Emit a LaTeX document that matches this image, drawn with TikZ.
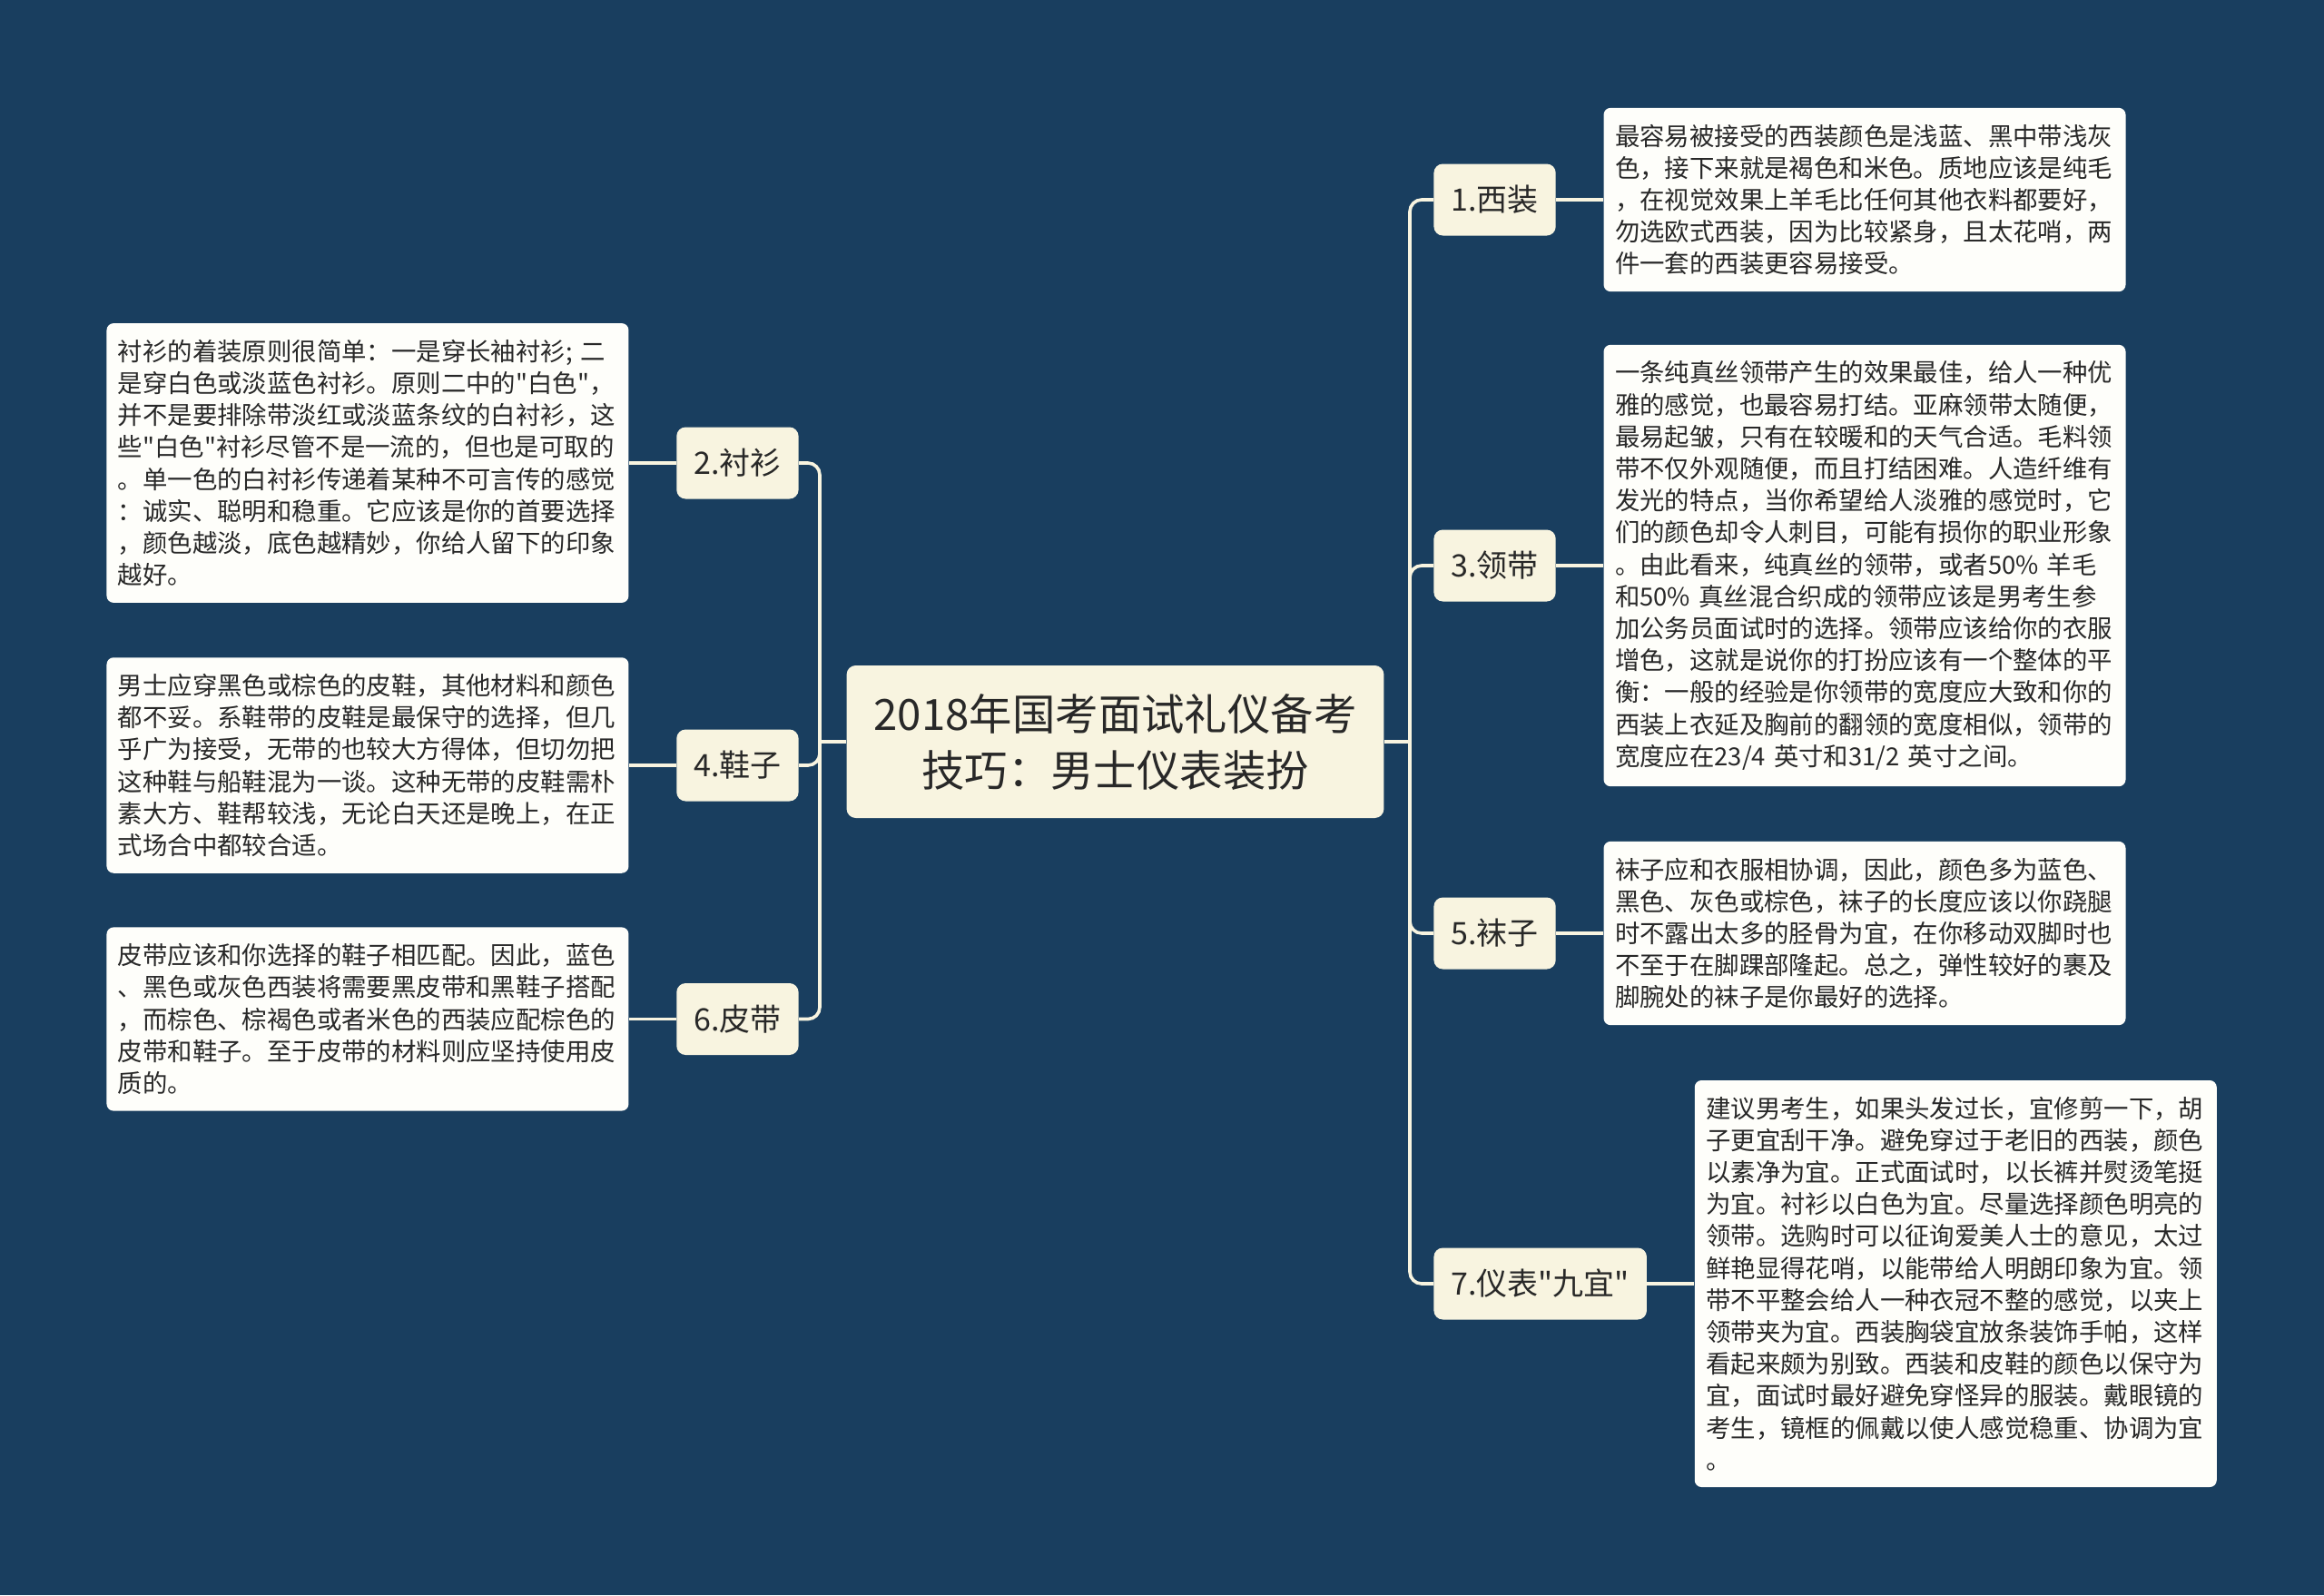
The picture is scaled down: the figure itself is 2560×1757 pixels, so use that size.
\documentclass[tikz,border=0pt]{standalone}
\usepackage{fontspec}
\setmainfont{Noto Sans CJK SC}[Ligatures=TeXOff]
\usepackage{xcolor}
\usepackage{tikz}
\usetikzlibrary{positioning}
\definecolor{nuit}{RGB}{25,62,95}
\definecolor{creme}{RGB}{248,244,224}
\definecolor{papier}{RGB}{254,254,250}
\definecolor{encre}{RGB}{40,40,40}

\begin{document}
\begin{tikzpicture}[x=0.5pt, y=-0.5pt, text=encre,
  racine/.style={fill=creme, rounded corners=5pt, minimum height=84pt, inner xsep=15pt, align=center, font=\fontsize{23.7}{31}\selectfont},
  branche/.style={fill=creme, rounded corners=5pt, minimum height=39.5pt, inner xsep=9.5pt, font=\fontsize{17}{20}\selectfont},
  feuille/.style={fill=papier, rounded corners=3.8pt, text width=275pt, inner xsep=6.25pt, inner ysep=9pt, align=left, font=\fontsize{13.7}{17.6}\selectfont},
  lien/.style={draw=creme, line width=1.8pt, rounded corners=6.5pt}]
\fill[nuit] (0,0) rectangle (2560,1757);
\useasboundingbox (0,0) rectangle (2560,1757);
\node[racine] (r) at (1228.5,817) {2018年国考面试礼仪备考\\技巧：男士仪表装扮};
\coordinate (td) at (1553,817);
\coordinate (tg) at (903,817);
% droite
\node[branche, anchor=west] (b1) at (1579,220) {1.西装};
\node[branche, anchor=west] (b3) at (1579,623) {3.领带};
\node[branche, anchor=west] (b5) at (1579,1028) {5.袜子};
\node[branche, anchor=west] (b7) at (1579,1414) {7.仪表"九宜"};
% gauche
\node[branche, anchor=east] (b2) at (880,510) {2.衬衫};
\node[branche, anchor=east] (b4) at (880,843) {4.鞋子};
\node[branche, anchor=east] (b6) at (880,1122.5) {6.皮带};
% textes
\node[feuille, right=26pt of b1] (f1) {最容易被接受的西装颜色是浅蓝、黑中带浅灰\\
色，接下来就是褐色和米色。质地应该是纯毛\\
，在视觉效果上羊毛比任何其他衣料都要好，\\
勿选欧式西装，因为比较紧身，且太花哨，两\\
件一套的西装更容易接受。};
\node[feuille, right=26pt of b3] (f3) {一条纯真丝领带产生的效果最佳，给人一种优\\
雅的感觉，也最容易打结。亚麻领带太随便，\\
最易起皱，只有在较暖和的天气合适。毛料领\\
带不仅外观随便，而且打结困难。人造纤维有\\
发光的特点，当你希望给人淡雅的感觉时，它\\
们的颜色却令人刺目，可能有损你的职业形象\\
。由此看来，纯真丝的领带，或者50\% 羊毛\\
和50\% 真丝混合织成的领带应该是男考生参\\
加公务员面试时的选择。领带应该给你的衣服\\
增色，这就是说你的打扮应该有一个整体的平\\
衡：一般的经验是你领带的宽度应大致和你的\\
西装上衣延及胸前的翻领的宽度相似，领带的\\
宽度应在23/4 英寸和31/2 英寸之间。};
\node[feuille, right=26pt of b5] (f5) {袜子应和衣服相协调，因此，颜色多为蓝色、\\
黑色、灰色或棕色，袜子的长度应该以你跷腿\\
时不露出太多的胫骨为宜，在你移动双脚时也\\
不至于在脚踝部隆起。总之，弹性较好的裹及\\
脚腕处的袜子是你最好的选择。};
\node[feuille, right=26pt of b7] (f7) {建议男考生，如果头发过长，宜修剪一下，胡\\
子更宜刮干净。避免穿过于老旧的西装，颜色\\
以素净为宜。正式面试时，以长裤并熨烫笔挺\\
为宜。衬衫以白色为宜。尽量选择颜色明亮的\\
领带。选购时可以征询爱美人士的意见，太过\\
鲜艳显得花哨，以能带给人明朗印象为宜。领\\
带不平整会给人一种衣冠不整的感觉，以夹上\\
领带夹为宜。西装胸袋宜放条装饰手帕，这样\\
看起来颇为别致。西装和皮鞋的颜色以保守为\\
宜，面试时最好避免穿怪异的服装。戴眼镜的\\
考生，镜框的佩戴以使人感觉稳重、协调为宜\\
。};
\node[feuille, left=26pt of b2] (f2) {衬衫的着装原则很简单：一是穿长袖衬衫; 二\\
是穿白色或淡蓝色衬衫。原则二中的"白色"，\\
并不是要排除带淡红或淡蓝条纹的白衬衫，这\\
些"白色"衬衫尽管不是一流的，但也是可取的\\
。单一色的白衬衫传递着某种不可言传的感觉\\
：诚实、聪明和稳重。它应该是你的首要选择\\
，颜色越淡，底色越精妙，你给人留下的印象\\
越好。};
\node[feuille, left=26pt of b4] (f4) {男士应穿黑色或棕色的皮鞋，其他材料和颜色\\
都不妥。系鞋带的皮鞋是最保守的选择，但几\\
乎广为接受，无带的也较大方得体，但切勿把\\
这种鞋与船鞋混为一谈。这种无带的皮鞋需朴\\
素大方、鞋帮较浅，无论白天还是晚上，在正\\
式场合中都较合适。};
\node[feuille, left=26pt of b6] (f6) {皮带应该和你选择的鞋子相匹配。因此，蓝色\\
、黑色或灰色西装将需要黑皮带和黑鞋子搭配\\
，而棕色、棕褐色或者米色的西装应配棕色的\\
皮带和鞋子。至于皮带的材料则应坚持使用皮\\
质的。};
\draw[lien] (r.east) -- (td); \draw[lien] (td) |- (b1.west); \draw[lien] (td) |- (b3.west); \draw[lien] (td) |- (b5.west); \draw[lien] (td) |- (b7.west);
\draw[lien] (r.west) -- (tg); \draw[lien] (tg) |- (b2.east); \draw[lien] (tg) |- (b4.east); \draw[lien] (tg) |- (b6.east);
\draw[lien] (b1.east) -- (f1.west); \draw[lien] (b3.east) -- (f3.west); \draw[lien] (b5.east) -- (f5.west); \draw[lien] (b7.east) -- (f7.west);
\draw[lien] (b2.west) -- (f2.east); \draw[lien] (b4.west) -- (f4.east); \draw[lien] (b6.west) -- (f6.east);
\end{tikzpicture}
\end{document}
